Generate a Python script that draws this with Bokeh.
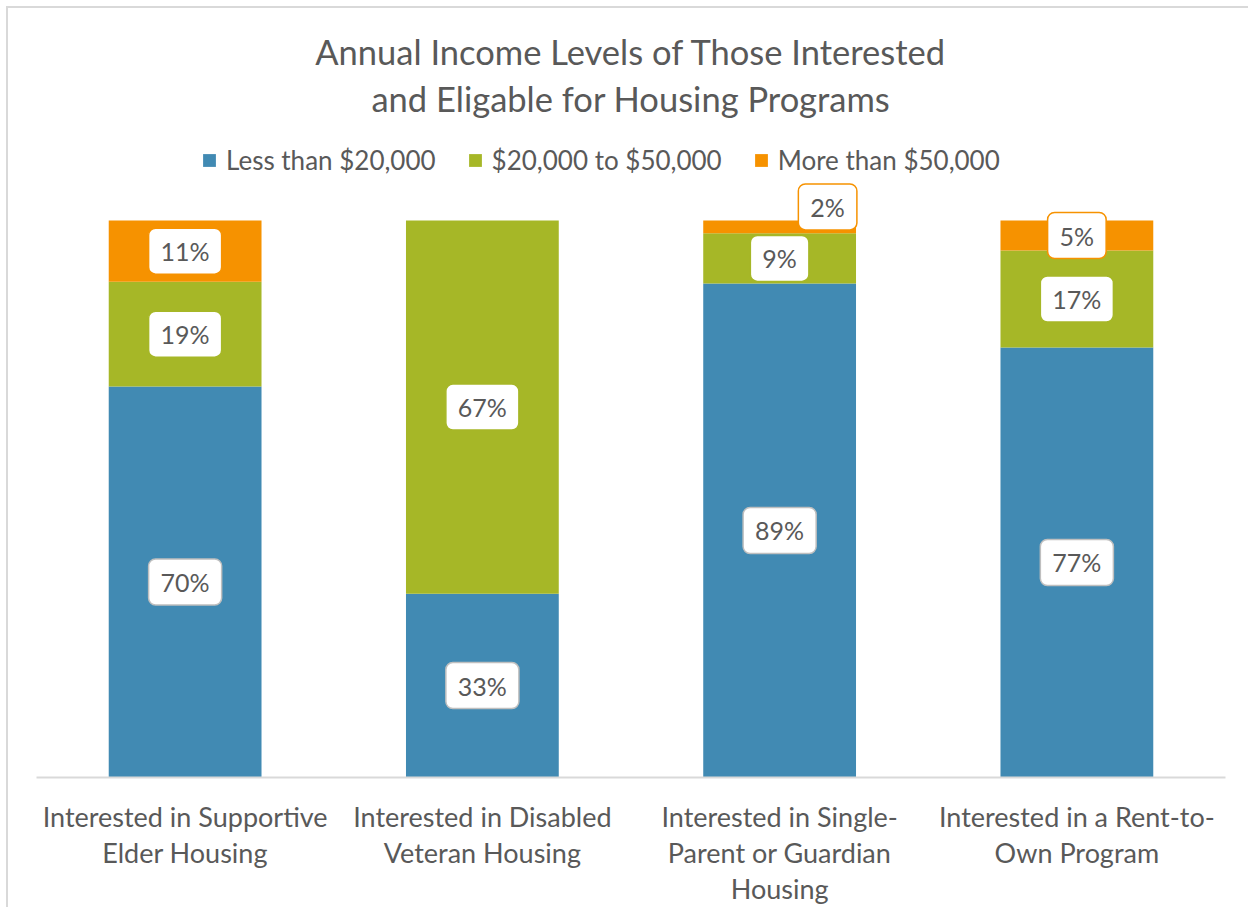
from bokeh.plotting import figure
from bokeh.models import ColumnDataSource, Legend, LegendItem, Range1d, FactorRange, Label
from bokeh.core.properties import value
from bokeh.embed import file_html
from bokeh.resources import INLINE

categories = [
    "Interested in Supportive\nElder Housing",
    "Interested in Disabled\nVeteran Housing",
    "Interested in Single-\nParent or Guardian\nHousing",
    "Interested in a Rent-to-\nOwn Program",
]
series = ["Less than $20,000", "$20,000 to $50,000", "More than $50,000"]
less_than_20k = [70.2, 33.0, 88.7, 77.2]
from_20k_to_50k = [18.8, 67.0, 9.0, 17.4]
more_than_50k = [11.0, 0.0, 2.3, 5.4]
title_lines = ["Annual Income Levels of Those Interested", "and Eligable for Housing Programs"]

colors = ["#418AB3", "#A6B727", "#F69200"]
label_borders = ["#BFBFBF", "#A6B727", "#F69200"]
TEXT = "#595959"
FONT = "Lato"

# layout (pixels)
CONTENT_TOP = 8
MIN_TOP = 4
AXIS_Y = 777
FRAME_H = AXIS_Y - (CONTENT_TOP + MIN_TOP)
PX_PER_100 = 557.0
Y_END = 100.0 * FRAME_H / PX_PER_100
MIN_BOTTOM = 132
FIG_H = AXIS_Y + MIN_BOTTOM - CONTENT_TOP
FIG_W = 1242

keys = ["s0", "s1", "s2"]
src = ColumnDataSource(dict(cat=categories, s0=less_than_20k, s1=from_20k_to_50k, s2=more_than_50k))

p = figure(
    x_range=FactorRange(*categories, range_padding=0, factor_padding=0),
    y_range=Range1d(0, Y_END),
    width=FIG_W, height=FIG_H,
    output_backend="svg", toolbar_location=None,
    min_border_left=28, min_border_right=8 + FIG_W - 1225, min_border_top=MIN_TOP,
    min_border_bottom=MIN_BOTTOM,
)
p.styles = {"margin-left": "6px", "margin-top": "6px",
            "border-left": "2px solid #D9D9D9", "border-top": "2px solid #D9D9D9"}
p.outline_line_color = None
p.xgrid.visible = False
p.ygrid.visible = False
p.yaxis.visible = False

renderers = p.vbar_stack(keys, x="cat", width=0.514, color=colors, line_color=None, source=src)

# data labels
lx, ly, lt, lb, xo, yo = [], [], [], [], [], []
vals = [less_than_20k, from_20k_to_50k, more_than_50k]
for i, c in enumerate(categories):
    base = 0.0
    for s in range(3):
        v = vals[s][i]
        if v > 0:
            lx.append(c)
            ly.append(base + v / 2)
            lt.append(f"{round(v)}%")
            lb.append(label_borders[s])
            small = v < 3
            xo.append(48 if small else 0)
            yo.append(-20 if small else 0)
        base += v
lsrc = ColumnDataSource(dict(x=lx, y=ly, t=lt, b=lb, xo=xo, yo=yo))
p.text(x="x", y="y", text="t", source=lsrc, x_offset="xo", y_offset="yo",
       text_align="center", text_baseline="middle",
       text_font=value(FONT), text_font_size="25px", text_color=TEXT,
       background_fill_color="white", border_line_color="b", border_line_width=1.5,
       padding=dict(x=12, y=8), border_radius=7)

# x axis
ax = p.xaxis[0]
ax.axis_line_color = "#D9D9D9"
ax.axis_line_width = 2
ax.major_tick_line_color = None
ax.minor_tick_line_color = None
ax.major_label_text_font = FONT
ax.major_label_text_font_size = "27px"
ax.major_label_text_color = TEXT
ax.major_label_text_line_height = 1.1
ax.major_label_standoff = 16

legend = Legend(
    items=[LegendItem(label=series[k], renderers=[renderers[k]]) for k in range(3)],
    orientation="horizontal", location=(165, AXIS_Y - 176),
    glyph_width=16, glyph_height=16, label_standoff=9, spacing=31,
    label_text_font=FONT, label_text_font_size="26px", label_text_color=TEXT,
    border_line_color=None, padding=0, margin=0, background_fill_alpha=0,
)
p.add_layout(legend, "center")

# title (two centred lines)
for line, ypx in zip(title_lines, [51, 98]):
    p.add_layout(Label(x=2.0, y=100.0 * (AXIS_Y - ypx) / PX_PER_100, text=line,
                       text_align="center", text_baseline="middle",
                       text_font=FONT, text_font_size="34.5px", text_color=TEXT))

open("out.html", "w").write(file_html(p, INLINE))
